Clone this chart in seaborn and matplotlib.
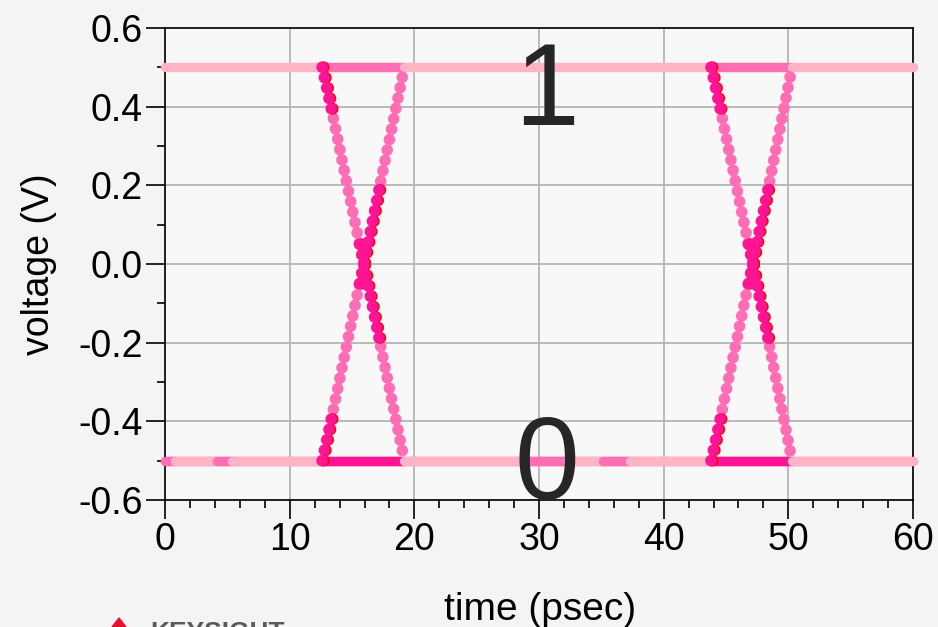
import numpy as np
import pandas as pd
import matplotlib
matplotlib.use("Agg")
import matplotlib.pyplot as plt
import seaborn as sns
from matplotlib.ticker import MultipleLocator
from matplotlib.transforms import offset_copy
from matplotlib.patches import Polygon

# eye diagram, two crossings
# edge vertices (psec) and the voltages they pass through
x1_t = [12.6, 13.5, 15.6, 17.3, 19.2]
x2_t = [43.8, 44.7, 46.8, 48.5, 50.3]
fall_v = [0.5, 0.37, 0.05, -0.21, -0.5]
rise_v = [-0.5, -0.37, -0.05, 0.21, 0.5]
edge_shade = ["dark", "mid", "dark", "mid"]

# logic levels, split where the trace colour changes
high_t = [0, 12.6, 19.2, 43.8, 50.3, 60]
high_shade = ["light", "mid", "light", "mid", "light"]
low_t = [0, 0.8, 4.2, 5.4, 12.6, 19.2, 29.3, 32.3, 35.1, 37.3, 43.8, 50.3, 60]
low_shade = ["mid", "light", "mid", "light", "dark", "light", "mid", "light",
             "mid", "light", "dark", "light"]

colors = {"light": "#ffb3c6", "mid": "#ff6eb4", "dark": "#ff1493"}
LW = 6.8
EDGE_LW = 8.4
DOTS = (0, (0.01, 0.9))

sns.set_style("whitegrid")
plt.rcParams["font.family"] = ["Liberation Sans", "DejaVu Sans"]
plt.rcParams["axes.unicode_minus"] = False

fig = plt.figure(figsize=(9.38, 6.27), dpi=100, facecolor="#f4f4f4")
ax = fig.add_axes([0.176, 0.2026, 0.7973, 0.753])
ax.set_facecolor("#f8f8f8")


def level(ts, v, shades, z):
    for a, b, s in zip(ts[:-1], ts[1:], shades):
        sns.lineplot(x=[a, b], y=[v, v], color=colors[s], linewidth=LW,
                     solid_capstyle="round", estimator=None, sort=False,
                     clip_on=False, zorder=z, ax=ax)


def edge(ts, vs, shade, z, color=None, **kw):
    for i in range(len(ts) - 1):
        if edge_shade[i] != shade:
            continue
        sns.lineplot(x=ts[i:i + 2], y=vs[i:i + 2], color=color or colors[shade],
                     linewidth=EDGE_LW, linestyle=DOTS, dash_capstyle="round",
                     estimator=None, sort=False, zorder=z, ax=ax, **kw)


# low level: mid pink underneath, lighter traces on top
sns.lineplot(x=[0, 60], y=[-0.5, -0.5], color=colors["mid"], linewidth=LW,
             solid_capstyle="round", estimator=None, clip_on=False, zorder=2, ax=ax)
level(low_t, -0.5, low_shade, 3)
level(high_t, 0.5, high_shade, 3)

shifted = offset_copy(ax.transData, fig=fig, x=1.5, y=0, units="dots")
for ts in (x1_t, x2_t):
    for vs in (fall_v, rise_v):
        edge(ts, vs, "mid", 4)
for ts in (x1_t, x2_t):
    for vs in (fall_v, rise_v):
        edge(ts, vs, "dark", 5, color="#ff0000", transform=shifted)
        edge(ts, vs, "dark", 6)

ax.text(30.6, 0.352, "1", fontsize=84, ha="center", va="baseline",
        color="#262626", zorder=10)
ax.text(30.6, -0.598, "0", fontsize=84, ha="center", va="baseline",
        color="#262626", zorder=10)

ax.set_xlim(0, 60)
ax.set_ylim(-0.6, 0.6)
yt = np.round(np.arange(-0.6, 0.61, 0.2), 1)
ax.set_xticks(np.arange(0, 61, 10))
ax.set_yticks(yt)
ax.set_yticklabels([f"{v:.1f}" for v in yt])
ax.xaxis.set_minor_locator(MultipleLocator(2))
ax.yaxis.set_minor_locator(MultipleLocator(0.1))
ax.grid(True, which="major", color="#b5b5b5", linewidth=1.3)
ax.grid(False, which="minor")
ax.set_axisbelow(True)
ax.tick_params(which="both", bottom=True, left=True, direction="out",
               color="black", width=1.2, labelcolor="black")
ax.tick_params(which="major", length=14, labelsize=27, pad=2)
ax.tick_params(which="minor", length=6)
for sp in ax.spines.values():
    sp.set_color("black")
    sp.set_linewidth(1.2)

ax.set_xlabel("time (psec)", fontsize=28, color="black")
ax.xaxis.set_label_coords(0.502, -0.195)
ax.set_ylabel("voltage (V)", fontsize=27, color="black")
ax.yaxis.set_label_coords(-0.145, 0.5)

# logo, cut off at the bottom edge as in the source
fig.text(150 / 938, 1 - 621 / 627, "KEYSIGHT", fontsize=19, fontweight="bold",
         color="#5a5a5a", va="top", ha="left")
fig.patches.append(Polygon([[112 / 938, 0], [119 / 938, 9 / 627], [126 / 938, 0]],
                           closed=True, color="#e8102e", transform=fig.transFigure))

fig.savefig("out.png", dpi=100, facecolor=fig.get_facecolor())
